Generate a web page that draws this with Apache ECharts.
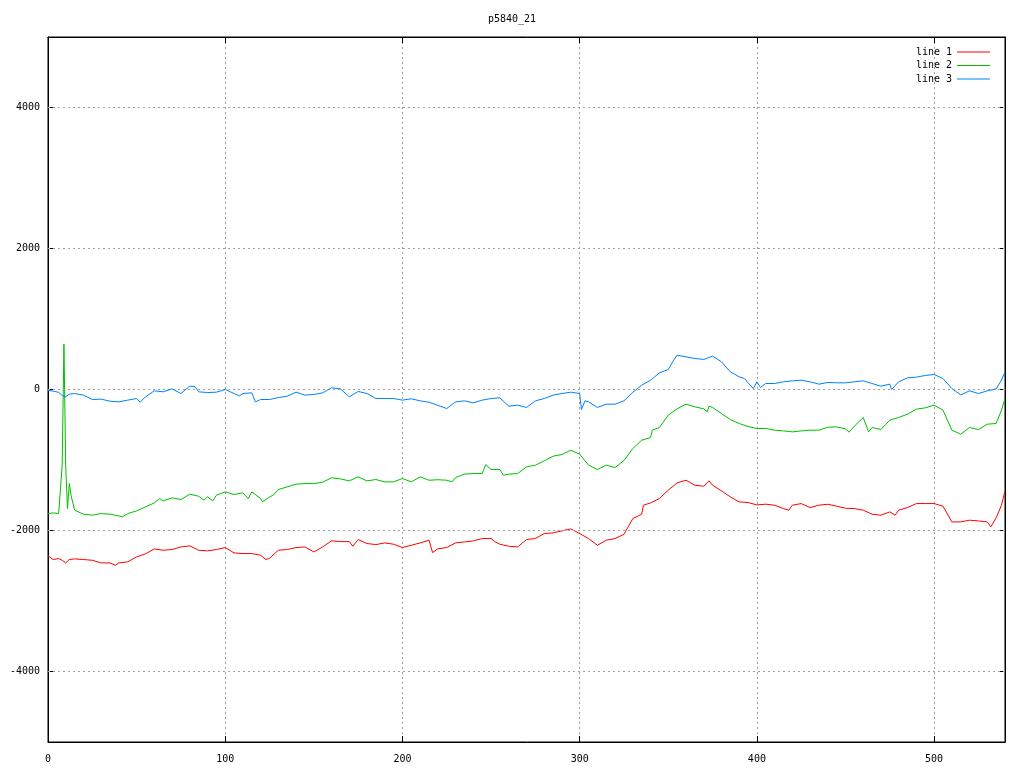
<!DOCTYPE html>
<html>
<head>
<meta charset="utf-8">
<script src="https://cdn.jsdelivr.net/npm/echarts@6/dist/echarts.min.js"></script>
<style>html,body{margin:0;padding:0;background:#fff;}#c{width:1024px;height:768px;}</style>
</head>
<body>
<div id="c"></div>
<script>
const chartTitle = 'p5840_21';
const seriesNames = ['line 1', 'line 2', 'line 3'];
const seriesColors = ['#ff0000', '#00c000', '#0080ff'];
const yTickValues = [-4000, -2000, 0, 2000, 4000];

const line1X = [0,3,6,8,10,12,15,20,25,30,35,38,40,45,50,55,60,65,70,75,80,85,90,95,100,105,110,115,120,123,125,130,135,140,145,150,155,160,165,170,172,175,180,185,190,195,200,205,210,215,217,220,225,230,235,240,245,250,252,255,260,265,270,275,280,285,290,295,300,305,310,315,320,325,330,335,336,340,345,350,355,360,365,370,373,375,380,385,390,395,400,405,410,415,418,420,425,430,435,440,445,450,455,460,465,470,475,478,480,485,490,495,500,505,510,515,520,525,530,532,535,538,540];
const line1Y = [-2360,-2412,-2398,-2422,-2460,-2412,-2403,-2412,-2422,-2460,-2460,-2493,-2460,-2445,-2374,-2332,-2261,-2280,-2270,-2233,-2218,-2280,-2289,-2270,-2242,-2318,-2327,-2327,-2351,-2412,-2393,-2280,-2270,-2242,-2233,-2304,-2233,-2147,-2157,-2157,-2223,-2128,-2185,-2200,-2176,-2195,-2242,-2209,-2176,-2138,-2313,-2260,-2242,-2176,-2162,-2147,-2114,-2114,-2157,-2195,-2223,-2233,-2128,-2114,-2043,-2034,-2005,-1977,-2043,-2114,-2209,-2138,-2114,-2053,-1831,-1769,-1641,-1608,-1547,-1428,-1324,-1287,-1358,-1372,-1296,-1358,-1438,-1523,-1594,-1603,-1637,-1627,-1641,-1689,-1712,-1641,-1618,-1675,-1641,-1628,-1655,-1684,-1689,-1712,-1769,-1783,-1736,-1783,-1712,-1674,-1618,-1618,-1618,-1655,-1878,-1878,-1854,-1864,-1878,-1949,-1821,-1641,-1438];

const line2X = [0,3,6,7,8,9,10,11,12,13,15,20,25,30,35,40,42,45,50,55,60,63,65,70,75,80,85,88,90,93,95,100,105,110,113,115,120,121,125,127,130,135,140,145,150,155,160,165,170,175,180,185,190,195,200,205,210,215,220,225,228,230,235,240,245,247,250,255,257,260,265,270,275,280,285,290,295,300,305,310,315,320,325,330,335,340,341,345,350,355,360,365,370,372,373,375,380,385,390,395,400,405,410,415,420,425,430,435,440,445,450,452,455,460,463,465,470,475,480,485,490,495,500,505,510,515,520,525,530,535,538,540];
const line2Y = [-1760,-1750,-1760,-1760,-1074,643,-1097,-1689,-1334,-1500,-1712,-1769,-1783,-1760,-1769,-1793,-1807,-1760,-1722,-1665,-1608,-1547,-1580,-1537,-1561,-1485,-1514,-1570,-1523,-1580,-1500,-1452,-1490,-1466,-1547,-1452,-1547,-1594,-1523,-1500,-1419,-1381,-1343,-1334,-1334,-1315,-1253,-1268,-1296,-1239,-1296,-1277,-1310,-1310,-1263,-1310,-1239,-1287,-1280,-1287,-1310,-1249,-1201,-1192,-1192,-1064,-1135,-1135,-1216,-1201,-1192,-1097,-1074,-1012,-946,-922,-861,-918,-1074,-1135,-1074,-1107,-1007,-837,-719,-681,-577,-539,-364,-274,-208,-246,-274,-317,-237,-255,-341,-426,-482,-525,-553,-553,-577,-587,-601,-587,-577,-577,-535,-530,-558,-605,-520,-397,-601,-539,-568,-435,-397,-350,-279,-260,-222,-293,-577,-634,-539,-568,-492,-482,-293,-128];

const line3X = [0,3,6,8,10,12,15,20,25,30,35,40,45,50,52,55,60,65,70,75,80,83,85,90,95,100,105,108,110,115,117,120,125,130,135,140,145,150,155,160,165,170,175,180,185,190,195,200,205,210,215,220,225,230,235,240,245,250,255,260,265,270,275,280,285,290,295,300,301,303,305,310,315,320,325,330,335,340,345,350,353,355,360,365,370,375,380,385,390,393,395,398,400,402,405,410,415,420,425,430,435,440,445,450,455,460,465,470,475,476,480,485,490,495,500,505,510,515,520,525,530,535,538,540];
const line3Y = [-10,-24,-40,-85,-104,-66,-57,-80,-142,-137,-166,-175,-151,-128,-180,-104,-19,-33,9,-57,47,38,-33,-43,-38,0,-57,-90,-57,-47,-175,-142,-142,-114,-95,-38,-80,-71,-47,24,9,-104,-28,-57,-128,-128,-128,-151,-132,-161,-180,-225,-270,-175,-161,-189,-151,-128,-118,-237,-222,-255,-161,-128,-80,-57,-38,-57,-284,-161,-175,-255,-208,-208,-161,-40,61,132,236,284,416,487,463,440,426,473,393,251,180,156,95,14,109,28,85,85,109,123,132,109,76,100,95,95,109,123,85,47,76,0,109,166,175,199,213,156,14,-76,-19,-57,-19,9,132,251];

const xs = [line1X, line2X, line3X];
const ys = [line1Y, line2Y, line3Y];

const FONT = 'DejaVu Sans Mono';
const chart = echarts.init(document.getElementById('c'), null, {renderer: 'canvas'});

const dataSeries = seriesNames.map((name, i) => ({
  name: name,
  type: 'line',
  data: xs[i].map((x, k) => [x, ys[i][k]]),
  symbol: 'none',
  showSymbol: false,
  lineStyle: {color: seriesColors[i], width: 1},
  itemStyle: {color: seriesColors[i]},
  z: 3 + i,
  silent: true
}));

const gridSeries = {
  name: '_grid',
  type: 'line',
  data: [],
  silent: true,
  z: 1,
  markLine: {
    silent: true,
    symbol: ['none', 'none'],
    label: {show: false},
    lineStyle: {color: '#a0a0a0', type: [2, 3], width: 1},
    data: yTickValues.map(v => ({yAxis: v}))
  }
};

const baseTick = {show: true, inside: true, length: 6, lineStyle: {color: '#000', width: 1}};

chart.setOption({
  animation: false,
  backgroundColor: '#ffffff',
  title: {
    text: chartTitle,
    left: 'center',
    top: 9,
    textStyle: {fontFamily: FONT, fontSize: 10, fontWeight: 'normal', color: '#000'}
  },
  legend: {
    data: seriesNames.map((n, i) => ({name: n, icon: 'rect', itemStyle: {color: seriesColors[i]}})),
    orient: 'vertical',
    right: 29,
    top: 42,
    align: 'right',
    itemWidth: 33,
    itemHeight: 1,
    itemGap: 3.5,
    textStyle: {fontFamily: FONT, fontSize: 10, color: '#000'},
    selectedMode: false
  },
  grid: {left: 48, right: 19, top: 37, bottom: 26, show: true, borderColor: '#000', borderWidth: 1, containLabel: false},
  xAxis: [{
    type: 'value', min: 0, max: 540, interval: 100, position: 'bottom',
    axisLine: {show: true, onZero: false, lineStyle: {color: '#000'}},
    axisTick: baseTick,
    axisLabel: {fontFamily: FONT, fontSize: 10, color: '#000', margin: 12, showMaxLabel: false,
      formatter: v => (v % 100 === 0 ? String(v) : '')},
    splitLine: {show: true, lineStyle: {color: '#a0a0a0', type: [2, 3], width: 1}}
  }, {
    type: 'value', min: 0, max: 540, interval: 100, position: 'top',
    axisLine: {show: true, onZero: false, lineStyle: {color: '#000'}},
    axisTick: baseTick,
    axisLabel: {show: false},
    splitLine: {show: false}
  }],
  yAxis: [{
    type: 'value', min: -5000, max: 5000, interval: 1000, position: 'left',
    axisLine: {show: true, onZero: false, lineStyle: {color: '#000'}},
    axisTick: Object.assign({}, baseTick, {customValues: yTickValues}),
    axisLabel: {fontFamily: FONT, fontSize: 10, color: '#000', margin: 8, customValues: yTickValues,
      formatter: v => (v % 2000 === 0 && Math.abs(v) < 5000 ? String(v) : '')},
    splitLine: {show: false}
  }, {
    type: 'value', min: -5000, max: 5000, interval: 1000, position: 'right',
    axisLine: {show: true, onZero: false, lineStyle: {color: '#000'}},
    axisTick: Object.assign({}, baseTick, {customValues: yTickValues}),
    axisLabel: {show: false},
    splitLine: {show: false}
  }],
  series: [gridSeries].concat(dataSeries)
});
</script>
</body>
</html>
